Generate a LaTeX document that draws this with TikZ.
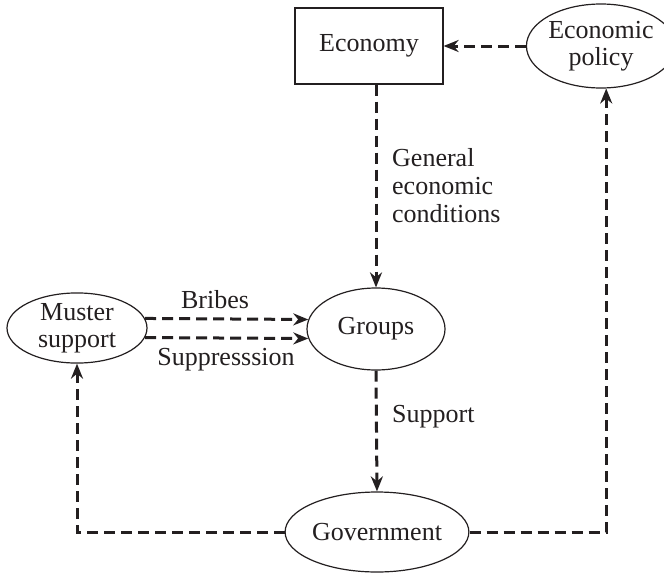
\documentclass[tikz,border=0pt]{standalone}
\usepackage{fontspec}
\setmainfont{Liberation Serif}
\usetikzlibrary{shapes.geometric,arrows.meta}
\definecolor{ink}{HTML}{231F20}
\begin{document}
\begin{tikzpicture}[x=1pt,y=-1pt,
  every node/.style={font=\fontsize{26}{28}\selectfont, text=ink},
  oval/.style={draw=ink, line width=1.2pt, ellipse, inner sep=0pt},
  boxnode/.style={draw=ink, line width=1.2pt, rectangle, inner sep=0pt, minimum width=148pt, minimum height=76pt},
  link/.style={draw=ink, line width=3pt, dash pattern=on 11pt off 6pt, -{Stealth[length=15pt,width=12pt]}},
  lbl/.style={align=left, inner sep=0pt}
]
\useasboundingbox (0,0) rectangle (664,573);

\node[boxnode] (econ) at (369,46) {Economy};
\node[oval, minimum width=128pt, minimum height=84pt, align=center] (policy) at (601,46) {Economic\\[-1pt]policy};
\node[oval, minimum width=138pt, minimum height=82pt] (groups) at (376,329) {Groups};
\node[oval, minimum width=140pt, minimum height=70pt, align=center] (muster) at (77,328) {Muster\\[-1pt]support};
\node[oval, minimum width=162pt, minimum height=80pt] (gov) at (377,532) {Government};

\draw[link] (policy.west) -- (econ.east);
\draw[link] (groups.north |- econ.south) -- (groups.north);
\draw[link] (muster.8) -- (groups.172);
\draw[link] (muster.-8) -- (groups.188);
\draw[link] (groups.south) -- (gov.north);
\coordinate (lc) at (muster.south |- gov.west);
\draw[link] (gov.west) -- (lc) -- (muster.south);
\coordinate (rc) at (policy.-83 |- gov.east);
\draw[link] (gov.east) -- (rc) -- (policy.-83);

\node[lbl, anchor=west] (gec) at (392,186) {General\\economic\\conditions};
\node[lbl] (bribes) at (215,300) {Bribes};
\node[lbl] (supp) at (226,360) {Suppresssion};
\node[lbl, anchor=west] (support) at (392,417) {Support};
\end{tikzpicture}
\end{document}
